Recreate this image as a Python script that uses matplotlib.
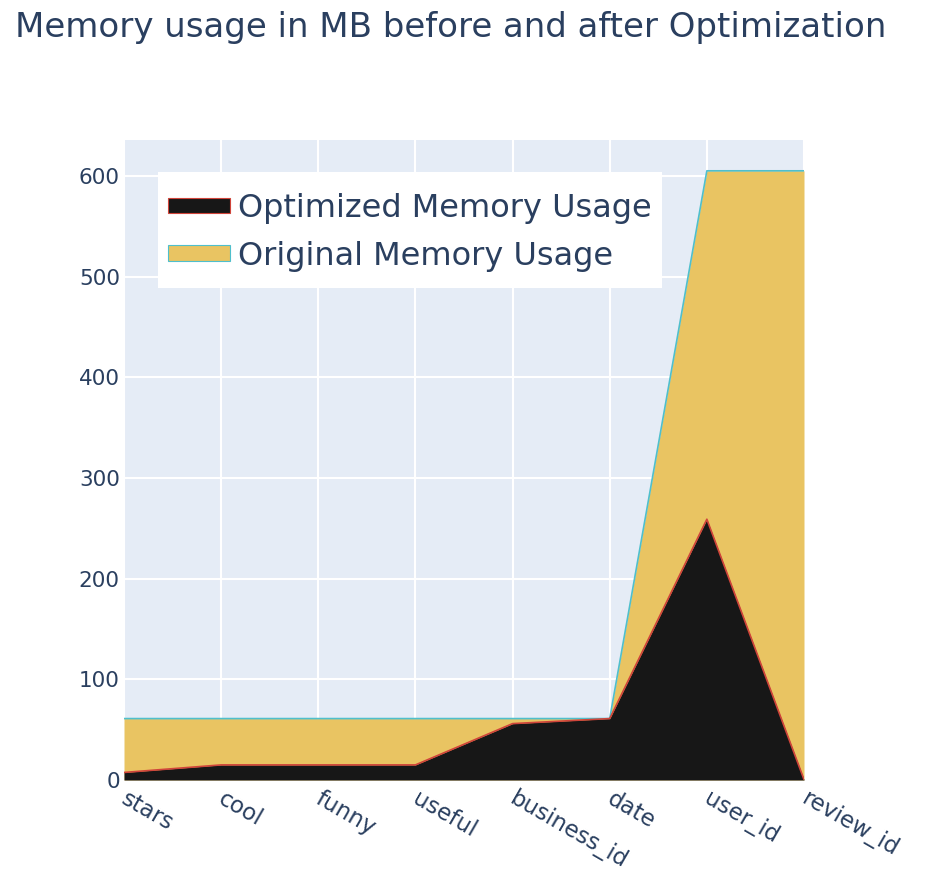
import matplotlib
matplotlib.use("Agg")
import matplotlib.pyplot as plt
import matplotlib.transforms as mtrans
from matplotlib.patches import Patch, Rectangle
import numpy as np

plt.rcParams['font.family'] = ['DejaVu Sans']

columns = ["stars", "cool", "funny", "useful", "business_id", "date", "user_id", "review_id"]
original_mb = [61, 61, 61, 61, 61, 61, 605, 605]
optimized_mb = [7.5, 15, 15, 15, 56, 61, 259, 0.5]

TEXT = '#2a3f5f'
GOLD = '#e9c462'
BLACK = '#171717'
TEAL = '#4fbfcc'
RED = '#d0443a'

fig = plt.figure(figsize=(9.32, 8.84), dpi=100)
ax = fig.add_axes([124/932, 1-780/884, 680/932, 640/884])
ax.set_facecolor('#e5ecf6')

x = np.arange(len(columns))
ax.fill_between(x, 0, original_mb, color=GOLD, linewidth=0, zorder=2)
ax.plot(x, original_mb, color=TEAL, linewidth=1.2, zorder=3)
ax.fill_between(x, 0, optimized_mb, color=BLACK, linewidth=0, zorder=4)
ax.plot(x, optimized_mb, color=RED, linewidth=1.2, zorder=5)

ax.set_xlim(0, len(columns) - 1)
ax.set_ylim(0, 635.6)
ax.set_yticks([0, 100, 200, 300, 400, 500, 600])
ax.set_xticks(x)
ax.set_xticklabels(columns, rotation=-30, ha='left', va='top', rotation_mode='anchor')
ax.grid(True, color='white', linewidth=1.5, zorder=1)
ax.set_axisbelow(True)
for s in ax.spines.values():
    s.set_visible(False)
ax.tick_params(axis='y', length=0, labelsize=15.5, colors=TEXT, pad=3)
ax.tick_params(axis='x', length=0, labelsize=16.5, colors=TEXT, pad=5)

for lbl in ax.get_xticklabels():
    lbl.set_transform(lbl.get_transform() + mtrans.ScaledTranslation(5/100, 0, fig.dpi_scale_trans))

# legend background box
ax.add_patch(Rectangle(((158-124)/680, (780-288)/640), (662-158)/680, (288-172)/640,
                       transform=ax.transAxes, facecolor='white', edgecolor='none',
                       zorder=9))

handles = [Patch(facecolor=BLACK, edgecolor=RED, linewidth=0.8),
           Patch(facecolor=GOLD, edgecolor=TEAL, linewidth=0.8)]
leg = ax.legend(handles, ["Optimized Memory Usage", "Original Memory Usage"],
                loc='upper left', bbox_to_anchor=((168-124)/680, (780-193)/640),
                fontsize=23, frameon=False,
                handlelength=1.95, handleheight=0.38,
                handletextpad=0.25, borderpad=0, labelspacing=0.52,
                borderaxespad=0)
leg.set_zorder(10)
for t in leg.get_texts():
    t.set_color(TEXT)

fig.text(15/932, 1-28/884, "Memory usage in MB before and after Optimization",
         fontsize=24.5, color=TEXT, ha='left', va='center')

fig.savefig("out.png", dpi=100, facecolor='white')
